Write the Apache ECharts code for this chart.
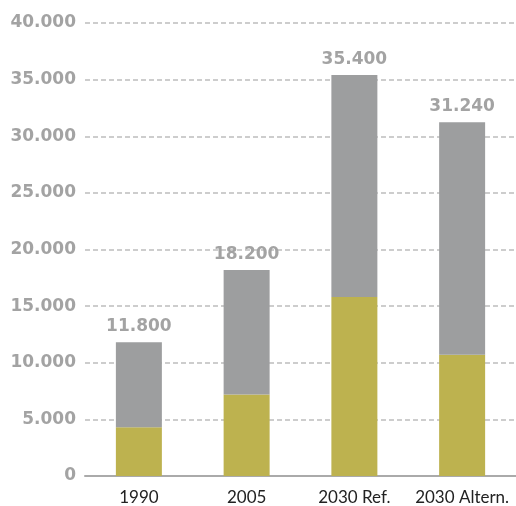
<!DOCTYPE html>
<html>
<head>
<meta charset="utf-8">
<script src="https://cdn.jsdelivr.net/npm/echarts@6/dist/echarts.min.js"></script>
<style>
  html, body { margin: 0; padding: 0; background: #fff; }
  #chart { width: 516px; height: 506px; }
</style>
</head>
<body>
<div id="chart"></div>
<script>
// categories and values
var categories = ["1990", "2005", "2030 Ref.", "2030 Altern."];
var totals = [11800, 18200, 35400, 31240];
var lowerPart = [4300, 7200, 15800, 10700];
var upperPart = [7500, 11000, 19600, 20540];

var olive = "#bdb24f";
var grey = "#9d9e9f";

// 40000 -> "40.000"
function dotThousands(num) {
  var s = String(num), result = "";
  while (s.length > 3) {
    result = "." + s.slice(-3) + result;
    s = s.slice(0, s.length - 3);
  }
  return s + result;
}

var myChart = echarts.init(document.getElementById("chart"));
myChart.setOption({
  animation: false,
  grid: { left: 85, width: 440, top: 23, bottom: 29 },
  xAxis: {
    type: "category",
    data: categories,
    axisTick: { show: false },
    axisLine: { lineStyle: { color: "#aaaaaa", width: 2 } },
    axisLabel: {
      interval: 0,
      hideOverlap: false,
      color: "#222222",
      fontFamily: "Lato",
      fontSize: 17,
      margin: 13
    }
  },
  yAxis: {
    type: "value",
    min: 0,
    max: 40000,
    interval: 5000,
    axisLine: { show: false },
    axisTick: { show: false },
    splitLine: {
      lineStyle: { color: "#bdbdbd", width: 1.5, type: [5, 3] }
    },
    axisLabel: {
      color: "#a3a3a3",
      fontFamily: "DejaVu Sans",
      fontWeight: "bold",
      fontSize: 17,
      margin: 9,
      formatter: function (v) { return dotThousands(v); }
    }
  },
  series: [
    {
      type: "bar",
      stack: "total",
      barWidth: 46,
      data: lowerPart,
      itemStyle: { color: olive }
    },
    {
      type: "bar",
      stack: "total",
      barWidth: 46,
      data: upperPart,
      itemStyle: { color: grey },
      label: {
        show: true,
        position: "top",
        distance: 7,
        color: "#a3a3a3",
        fontFamily: "DejaVu Sans",
        fontWeight: "bold",
        fontSize: 17,
        formatter: function (p) { return dotThousands(totals[p.dataIndex]); }
      }
    }
  ]
});
</script>
</body>
</html>
